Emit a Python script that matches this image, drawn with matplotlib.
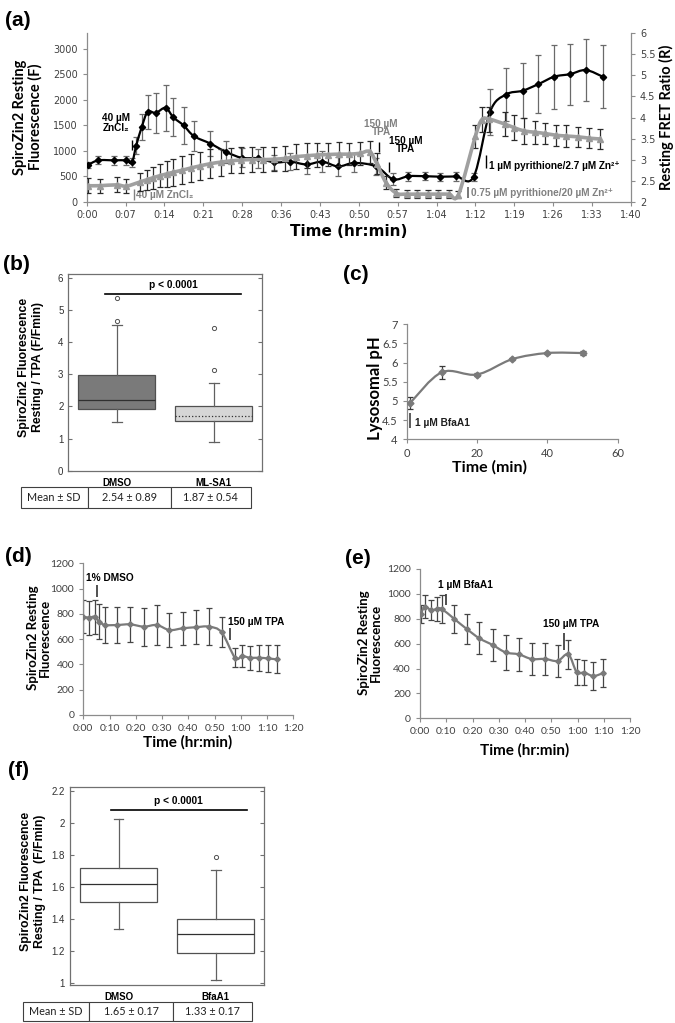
import numpy as np
import matplotlib
matplotlib.use('Agg')
import matplotlib.pyplot as plt
from matplotlib.path import Path
from matplotlib.patches import PathPatch

plt.rcParams['font.family'] = ['Lato', 'DejaVu Sans']

# ---- panel (a): Zn / TPA / pyrithione time course ----
a_black_t = [0.2, 2.1, 5.1, 7.2, 8.3, 9.1, 10.1, 11.2, 12.7, 14.5,
             15.9, 17.8, 19.7, 22.7, 25.6, 28.5, 31.5, 34.5, 37.4, 40.4,
             43.3, 46.2, 49.2, 53.2, 56.3, 59.1, 62.1, 65.0, 67.9, 71.1,
             74.1, 77.0, 80.1, 83.0, 85.9, 88.8, 91.7, 94.8]
a_black_F = [715, 810, 810, 810, 770, 1100, 1460, 1760, 1740, 1840,
             1655, 1495, 1285, 1140, 975, 860, 850, 770, 785, 730,
             785, 690, 760, 690, 440, 500, 500, 490, 495, 490,
             1760, 2100, 2175, 2305, 2450, 2500, 2580, 2450]
a_black_err = [55, 80, 90, 90, 90, 160, 260, 340, 390, 450,
               370, 370, 290, 245, 210, 185, 190, 150, 160, 190,
               200, 180, 170, 170, 120, 90, 80, 80, 80, 80,
               450, 520, 540, 570, 630, 600, 600, 620]

a_gray_t = [0.2, 2.4, 5.5, 7.3, 9.8, 11.0, 12.2, 13.5, 14.7, 15.9,
            17.6, 19.1, 20.8, 22.6, 24.6, 26.5, 28.4, 30.3, 32.4, 34.5,
            36.5, 38.5, 40.4, 42.4, 44.4, 46.3, 48.2, 50.2, 52.0, 53.3,
            55.0, 56.9, 58.8, 60.6, 62.7, 64.6, 66.6, 68.3, 71.4, 72.6,
            74.0, 76.9, 78.5, 80.4, 82.4, 84.2, 86.2, 88.1, 90.3, 92.3, 94.3]
a_gray_R = [2.38, 2.38, 2.40, 2.37, 2.47, 2.52, 2.57, 2.62, 2.66, 2.70,
            2.75, 2.80, 2.85, 2.90, 2.94, 2.97, 2.99, 3.00, 3.00, 3.01,
            3.03, 3.07, 3.09, 3.11, 3.12, 3.13, 3.13, 3.15, 3.19, 2.90,
            2.45, 2.20, 2.18, 2.18, 2.18, 2.18, 2.18, 2.17, 3.55, 3.95,
            3.96, 3.84, 3.76, 3.68, 3.65, 3.62, 3.58, 3.56, 3.54, 3.51, 3.49]
a_gray_err = [0.18, 0.17, 0.18, 0.17, 0.22, 0.24, 0.26, 0.28, 0.30, 0.32,
              0.33, 0.34, 0.34, 0.34, 0.32, 0.30, 0.30, 0.30, 0.29, 0.29,
              0.29, 0.30, 0.30, 0.29, 0.28, 0.28, 0.27, 0.27, 0.26, 0.25,
              0.15, 0.09, 0.09, 0.09, 0.09, 0.09, 0.09, 0.09, 0.28, 0.30,
              0.30, 0.29, 0.29, 0.30, 0.27, 0.26, 0.25, 0.25, 0.24, 0.23, 0.23]
a_xtick_labels = ['0:00', '0:07', '0:14', '0:21', '0:28', '0:36', '0:43', '0:50',
                  '0:57', '1:04', '1:12', '1:19', '1:26', '1:33', '1:40']

# ---- panel (b): box plot ----
b_groups = ['DMSO', 'ML-SA1']
b_q1 = [1.92, 1.53]
b_med = [2.19, 1.70]
b_q3 = [2.98, 2.02]
b_lo = [1.50, 0.89]
b_hi = [4.52, 2.73]
b_fliers = [[4.65, 5.37], [3.12, 4.42]]
b_table = ['Mean ± SD', '2.54 ± 0.89', '1.87 ± 0.54']

# ---- panel (c): lysosomal pH ----
c_t = [1, 10, 20, 30, 40, 50]
c_pH = [4.95, 5.75, 5.69, 6.09, 6.25, 6.25]
c_err = [0.15, 0.17, 0.05, 0.02, 0.02, 0.05]

# ---- panel (d): DMSO control ----
d_t = [0, 2.3, 4.4, 6.1, 8.3, 12.9, 17.8, 23.1, 28.0, 32.8,
       37.9, 42.8, 47.9, 52.7, 57.8, 60.6, 63.5, 66.9, 70.2, 73.7]
d_F = [778, 770, 778, 738, 712, 712, 717, 699, 712, 672,
       686, 694, 699, 654, 453, 466, 453, 453, 448, 440]
d_err = [132, 135, 135, 140, 145, 145, 140, 150, 155, 135,
         130, 133, 145, 118, 75, 90, 94, 103, 108, 110]

# ---- panel (e): BfaA1 ----
e_t = [0.25, 1.9, 4.2, 6.6, 8.3, 13.1, 17.8, 22.6, 27.7, 32.6,
       37.6, 42.5, 47.6, 52.4, 56.5, 59.7, 62.5, 66.0, 69.6]
e_F = [838, 897, 870, 879, 879, 798, 718, 643, 589, 530,
       514, 477, 477, 461, 514, 370, 368, 340, 362]
e_err = [74, 94, 80, 95, 110, 115, 123, 130, 131, 143,
         134, 130, 127, 130, 114, 105, 103, 110, 111]
de_xtick_labels = ['0:00', '0:10', '0:20', '0:30', '0:40', '0:50', '1:00', '1:10', '1:20']

# ---- panel (f): box plot ----
f_groups = ['DMSO', 'BfaA1']
f_q1 = [1.505, 1.187]
f_med = [1.618, 1.306]
f_q3 = [1.717, 1.399]
f_lo = [1.339, 1.02]
f_hi = [2.023, 1.707]
f_fliers = [[], [1.79]]
f_table = ['Mean ± SD', '1.65 ± 0.17', '1.33 ± 0.17']

W, H = 675, 1023
AX_GRAY = '#8c8c8c'
TXT = '#404040'
ARIAL = ['Liberation Sans', 'DejaVu Sans']

fig = plt.figure(figsize=(W / 100, H / 100), dpi=100)


def px_axes(l, t, r, b):
    return fig.add_axes([l / W, 1 - b / H, (r - l) / W, (b - t) / H])


def ftext(x, y, s, **kw):
    fig.text(x / W, 1 - y / H, s, **kw)


def smooth_line(ax, x, y, k=1 / 6., **kw):
    # excel-like smoothed line (cubic bezier through the points)
    n = len(x)
    verts = [(x[0], y[0])]
    codes = [Path.MOVETO]
    for i in range(n - 1):
        xp, yp = (x[i - 1], y[i - 1]) if i > 0 else (x[i], y[i])
        xn, yn = (x[i + 2], y[i + 2]) if i + 2 < n else (x[i + 1], y[i + 1])
        verts.append((x[i] + (x[i + 1] - xp) * k, y[i] + (y[i + 1] - yp) * k))
        verts.append((x[i + 1] - (xn - x[i]) * k, y[i + 1] - (yn - y[i]) * k))
        verts.append((x[i + 1], y[i + 1]))
        codes += [Path.CURVE4] * 3
    ax.add_patch(PathPatch(Path(verts, codes), fill=False, **kw))


def excel_style(ax, labelsize=7.5):
    for s in ['top', 'right']:
        ax.spines[s].set_visible(False)
    for s in ['left', 'bottom']:
        ax.spines[s].set_color(AX_GRAY)
        ax.spines[s].set_linewidth(0.9)
    ax.tick_params(colors=AX_GRAY, labelcolor=TXT, length=3, width=0.8,
                   labelsize=labelsize)


def boxplot_panel(ax, groups, q1, med, q3, lo, hi, fliers, faces, med_styles, ylim, yticks):
    stats = []
    for i in range(len(groups)):
        stats.append(dict(med=med[i], q1=q1[i], q3=q3[i], whislo=lo[i],
                          whishi=hi[i], fliers=fliers[i], label=groups[i]))
    bp = ax.bxp(stats, positions=[1, 2], widths=0.79, patch_artist=True,
                capwidths=0.1,
                whiskerprops=dict(color='#606060', lw=0.9),
                capprops=dict(color='#606060', lw=0.9),
                flierprops=dict(marker='o', ms=3, mfc='white', mec='#505050', mew=0.7))
    for patch, fc in zip(bp['boxes'], faces):
        patch.set_facecolor(fc)
        patch.set_edgecolor('#505050')
        patch.set_linewidth(0.9)
    for m, ls in zip(bp['medians'], med_styles):
        m.set_color('#303030')
        m.set_linestyle(ls)
        m.set_linewidth(0.9)
    ax.set_xlim(0.5, 2.5)
    ax.set_ylim(*ylim)
    ax.set_yticks(yticks)
    for s in ax.spines.values():
        s.set_color('#707070')
        s.set_linewidth(0.9)
    ax.tick_params(axis='y', direction='in', length=3, colors='#707070',
                   labelcolor='#303030', labelsize=7, right=True)
    ax.tick_params(axis='x', length=0, pad=5)
    for lab in ax.get_yticklabels():
        lab.set_family(ARIAL)
    ax.set_xticks([1, 2])
    ax.set_xticklabels(groups, fontsize=7, fontweight='bold', family=ARIAL)


def mean_table(l, t, r, b, row, widths):
    tax = px_axes(l, t, r, b)
    tax.axis('off')
    tbl = tax.table(cellText=[row], colWidths=list(np.array(widths) / sum(widths)),
                    cellLoc='center', bbox=[0, 0, 1, 1])
    tbl.auto_set_font_size(False)
    tbl.set_fontsize(7.8)
    for cell in tbl.get_celld().values():
        cell.set_edgecolor('#404040')
        cell.set_linewidth(0.8)
        cell.get_text().set_color('#202020')


# ================= (a) =================
ax = px_axes(86.7, 33.3, 631, 201.7)
excel_style(ax, labelsize=7)
ax.set_xlim(0, 100)
ax.set_ylim(0, 3300)
ax.set_yticks(np.arange(0, 3001, 500))
ax.set_xticks(np.linspace(0, 100, 15))
ax.set_xticklabels(a_xtick_labels, family='DejaVu Sans')
for lab in ax.get_yticklabels():
    lab.set_family('DejaVu Sans')
ax.tick_params(axis='x', pad=3)

smooth_line(ax, a_black_t, a_black_F, color='black', lw=1.6, zorder=3)
ax.errorbar(a_black_t, a_black_F, yerr=a_black_err, fmt='none', ecolor='#6a6a6a',
            elinewidth=0.9, capsize=2, capthick=0.9, zorder=2)
ax.plot(a_black_t, a_black_F, 'D', color='black', ms=3.2, zorder=4)

ax2 = ax.twinx()
ax2.set_ylim(2, 6)
ax2.set_yticks(np.arange(2, 6.01, 0.5))
ax2.set_yticklabels(['2', '2.5', '3', '3.5', '4', '4.5', '5', '5.5', '6'], family='DejaVu Sans')
for s in ['top', 'left', 'bottom']:
    ax2.spines[s].set_visible(False)
ax2.spines['right'].set_color(AX_GRAY)
ax2.spines['right'].set_linewidth(0.9)
ax2.tick_params(colors=AX_GRAY, labelcolor=TXT, length=3, width=0.8, labelsize=7)
smooth_line(ax2, a_gray_t, a_gray_R, color='#a0a0a0', lw=2.6, zorder=3)
ax2.errorbar(a_gray_t, a_gray_R, yerr=a_gray_err, fmt='none', ecolor='#2a2a2a',
             elinewidth=0.9, capsize=2, capthick=0.9, zorder=2)
ax2.plot(a_gray_t, a_gray_R, '^', color='#9a9a9a', ms=4.5, zorder=4)

# annotations (a)
ann = dict(fontsize=7.2, fontweight='bold', family=ARIAL)
ax.text(5.4, 1545, '40 µM\nZnCl₂', ha='center', va='center', color='black',
        linespacing=0.95, **ann)
ax.vlines(8.3, 1010, 1210, color='black', lw=1)
ax.vlines(8.6, 40, 240, color='#808080', lw=1)
ax.text(9.1, 135, '40 µM ZnCl₂', ha='left', va='center', color='#808080', **ann)
ax.text(54.1, 1445, '150 µM\nTPA', ha='center', va='center', color='#808080',
        linespacing=0.85, **ann)
ax.vlines(53.7, 975, 1170, color='black', lw=1)
ax.text(58.6, 1110, '150 µM\nTPA', ha='center', va='center', color='black',
        linespacing=0.85, **ann)
ax.vlines(55.5, 580, 780, color='black', lw=1)
ax.vlines(73.4, 660, 915, color='black', lw=1)
ax.text(73.9, 705, '1 µM pyrithione/2.7 µM Zn²⁺', ha='left', va='center',
        color='black', **ann)
ax.vlines(70.0, 70, 290, color='#606060', lw=1.2)
ax.text(70.6, 172, '0.75 µM pyrithione/20 µM Zn²⁺', ha='left', va='center',
        color='#808080', **ann)

ftext(5, 20, '(a)', fontsize=15, fontweight='bold', family=ARIAL, va='center')
ftext(28, 117, 'SpiroZin2 Resting\nFluorescence (F)', rotation=90, ha='center',
      va='center', fontsize=10.5, fontweight='bold', linespacing=1.1)
ftext(666, 117, 'Resting FRET Ratio (R)', rotation=90, ha='center', va='center',
      fontsize=10.5, fontweight='bold')
ftext(349, 232, 'Time (hr:min)', ha='center', va='center', fontsize=11,
      fontweight='bold', family='DejaVu Sans')

# ================= (b) =================
axb = px_axes(68.3, 274.3, 262.3, 470.7)
boxplot_panel(axb, b_groups, b_q1, b_med, b_q3, b_lo, b_hi, b_fliers,
              ['#7a7a7a', '#d6d6d6'], ['-', ':'], (0, 6.1), range(0, 7))
axb.plot([0.88, 2.28], [5.49, 5.49], color='black', lw=1.2)
axb.text(1.58, 5.78, 'p < 0.0001', ha='center', va='center', fontsize=7.3,
         fontweight='bold', family=ARIAL)
mean_table(20.7, 486.7, 250.7, 508.3, b_table, [67, 83, 80])
ftext(3, 264, '(b)', fontsize=15, fontweight='bold', family=ARIAL, va='center')
ftext(31, 367, 'SpiroZin2 Fluorescence\nResting / TPA (F/Fmin)', rotation=90,
      ha='center', va='center', fontsize=8.8, fontweight='bold', family=ARIAL,
      linespacing=1.15)

# ================= (c) =================
axc = px_axes(406.7, 324.3, 617.7, 439.3)
excel_style(axc, labelsize=8)
axc.set_xlim(0, 60)
axc.set_ylim(4, 7)
axc.set_xticks([0, 20, 40, 60])
axc.set_yticks(np.arange(4, 7.01, 0.5))
axc.set_yticklabels(['4', '4.5', '5', '5.5', '6', '6.5', '7'])
smooth_line(axc, c_t, c_pH, color='#7a7a7a', lw=1.6, zorder=3)
axc.errorbar(c_t, c_pH, yerr=c_err, fmt='none', ecolor='#3a3a3a', elinewidth=0.9,
             capsize=2, capthick=0.9, zorder=2)
axc.plot(c_t, c_pH, 'D', color='#7a7a7a', ms=3.5, zorder=4)
axc.vlines(0.95, 4.29, 4.69, color='#303030', lw=1.1)
axc.text(2.4, 4.43, '1 µM BfaA1', ha='left', va='center', color='#202020',
         fontsize=7.3, fontweight='bold', family=ARIAL)
ftext(343, 275, '(c)', fontsize=15, fontweight='bold', family=ARIAL, va='center')
ftext(375, 388, 'Lysosomal pH', rotation=90, ha='center', va='center',
      fontsize=12, fontweight='bold')
ftext(489, 467, 'Time (min)', ha='center', va='center', fontsize=11.5,
      fontweight='bold')


# ================= (d) / (e) =================
def trace_panel(box, t, F, err, ann_list):
    axx = px_axes(*box)
    excel_style(axx, labelsize=7.5)
    axx.set_xlim(0, 80)
    axx.set_ylim(0, 1200)
    axx.set_xticks(np.arange(0, 81, 10))
    axx.set_xticklabels(de_xtick_labels)
    axx.set_yticks(np.arange(0, 1201, 200))
    smooth_line(axx, t, F, color='#7a7a7a', lw=1.6, zorder=3)
    axx.errorbar(t, F, yerr=err, fmt='none', ecolor='#454545', elinewidth=0.9,
                 capsize=2.2, capthick=0.9, zorder=2)
    axx.plot(t, F, 'D', color='#7a7a7a', ms=2.8, zorder=4)
    for tx, ty, s, lx, ly0, ly1 in ann_list:
        axx.text(tx, ty, s, ha='left', va='center', fontsize=7.3,
                 fontweight='bold', family=ARIAL)
        axx.vlines(lx, ly0, ly1, color='#202020', lw=1.1)
    return axx


trace_panel((83.3, 563.3, 293.3, 715), d_t, d_F, d_err,
            [(1.0, 1081, '1% DMSO', 5.3, 934, 1028),
             (55.0, 733, '150 µM TPA', 55.9, 593, 688)])
ftext(5, 556, '(d)', fontsize=15, fontweight='bold', family=ARIAL, va='center')
ftext(39, 638, 'SpiroZin2 Resting\nFluorescence', rotation=90, ha='center',
      va='center', fontsize=9.5, fontweight='bold', linespacing=1.05)
ftext(188, 742, 'Time (hr:min)', ha='center', va='center', fontsize=11,
      fontweight='bold')

trace_panel((420, 569, 630, 718.3), e_t, e_F, e_err,
            [(7.0, 1071, '1 µM BfaA1', 9.9, 911, 997),
             (46.7, 758, '150 µM TPA', 54.9, 549, 686)])
ftext(345, 559, '(e)', fontsize=15, fontweight='bold', family=ARIAL, va='center')
ftext(370, 643, 'SpiroZin2 Resting\nFluorescence', rotation=90, ha='center',
      va='center', fontsize=9.5, fontweight='bold', linespacing=1.05)
ftext(525, 750, 'Time (hr:min)', ha='center', va='center', fontsize=11,
      fontweight='bold')

# ================= (f) =================
axf = px_axes(70, 787.3, 264.3, 985)
boxplot_panel(axf, f_groups, f_q1, f_med, f_q3, f_lo, f_hi, f_fliers,
              ['white', 'white'], ['-', '-'], (0.99, 2.222),
              [1, 1.2, 1.4, 1.6, 1.8, 2, 2.2])
axf.set_yticklabels(['1', '1.2', '1.4', '1.6', '1.8', '2', '2.2'], family=ARIAL)
axf.plot([0.92, 2.32], [2.081, 2.081], color='black', lw=1.2)
axf.text(1.615, 2.139, 'p < 0.0001', ha='center', va='center', fontsize=7.3,
         fontweight='bold', family=ARIAL)
mean_table(22.7, 1001.7, 251.7, 1020.7, f_table, [66.6, 83.4, 79])
ftext(8, 771, '(f)', fontsize=15, fontweight='bold', family=ARIAL, va='center')
ftext(33, 881, 'SpiroZin2 Fluorescence\nResting / TPA  (F/Fmin)', rotation=90,
      ha='center', va='center', fontsize=8.8, fontweight='bold', family=ARIAL,
      linespacing=1.15)

fig.savefig('out.png', dpi=100)
